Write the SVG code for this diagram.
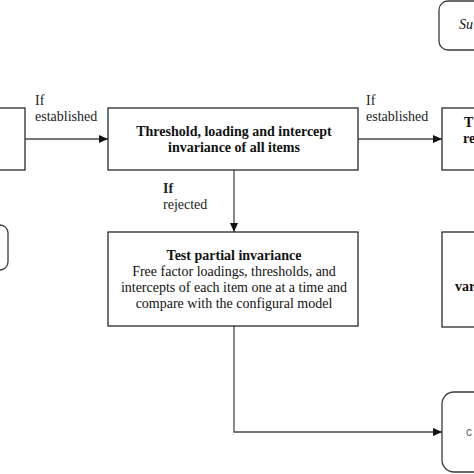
<svg xmlns="http://www.w3.org/2000/svg" width="474" height="474" viewBox="0 0 474 474">
<defs>
<style>
.box{fill:#fff;stroke:#2a2a2a;stroke-width:1.3}
.rbox{fill:#fff;stroke:#3a3a3a;stroke-width:1.3}
.conn{fill:none;stroke:#4a4a4a;stroke-width:1.3}
.t{font-family:"Liberation Serif","Times New Roman",serif;font-size:14px;fill:#111}
.b{font-weight:bold}
.lab{font-family:"Liberation Serif","Times New Roman",serif;font-size:14px;fill:#222}
</style>
<marker id="ah" markerWidth="10" markerHeight="8" refX="9" refY="4" orient="auto" markerUnits="userSpaceOnUse">
<path d="M0,0 L9,4 L0,8 Z" fill="#111"/>
</marker>
</defs>
<rect width="474" height="474" fill="#fff"/>

<g id="connectors">
<line class="conn" x1="25" y1="139" x2="108" y2="139" marker-end="url(#ah)"/>
<line class="conn" x1="358" y1="139" x2="442" y2="139" marker-end="url(#ah)"/>
<line class="conn" x1="234" y1="170" x2="234" y2="232" marker-end="url(#ah)"/>
<polyline class="conn" points="234,326 234,432 442,432" marker-end="url(#ah)"/>
<text class="lab" x="35" y="105">If</text>
<text class="lab" x="35" y="121">established</text>
<text class="lab" x="366" y="105">If</text>
<text class="lab" x="366" y="121">established</text>
<text class="lab b" x="163" y="193">If</text>
<text class="lab" x="163" y="209">rejected</text>
</g>

<g id="node-left-top">
<rect class="box" x="-20" y="108" width="45" height="62"/>
</g>
<g id="node-left-mid">
<rect class="rbox" x="-30" y="225" width="38" height="45" rx="8"/>
</g>
<g id="node-threshold">
<rect class="box" x="108" y="108" width="250" height="62"/>
<text class="t b" x="234" y="136" text-anchor="middle">Threshold, loading and intercept</text>
<text class="t b" x="234" y="152" text-anchor="middle">invariance of all items</text>
</g>
<g id="node-partial">
<rect class="box" x="108" y="232" width="250" height="94"/>
<text class="t b" x="234" y="260" text-anchor="middle">Test partial invariance</text>
<text class="t" x="234" y="276" text-anchor="middle">Free factor loadings, thresholds, and</text>
<text class="t" x="234" y="292" text-anchor="middle">intercepts of each item one at a time and</text>
<text class="t" x="234" y="308" text-anchor="middle">compare with the configural model</text>
</g>
<g id="node-summary">
<rect class="rbox" x="439" y="1" width="60" height="49" rx="9"/>
<text class="t" x="459" y="29" font-style="italic">Su</text>
</g>
<g id="node-right-top">
<rect class="box" x="442" y="108" width="60" height="62"/>
<text class="t b" x="464" y="127">T</text>
<text class="t b" x="463" y="143">re</text>
</g>
<g id="node-right-mid">
<rect class="box" x="442" y="232" width="60" height="95"/>
<text class="t b" x="455" y="291">var</text>
</g>
<g id="node-right-bottom">
<rect class="rbox" x="442" y="392" width="60" height="80" rx="12"/>
<text x="466" y="436" font-family="Liberation Sans, Arial, sans-serif" font-size="12" fill="#666">c</text>
</g>
</svg>
